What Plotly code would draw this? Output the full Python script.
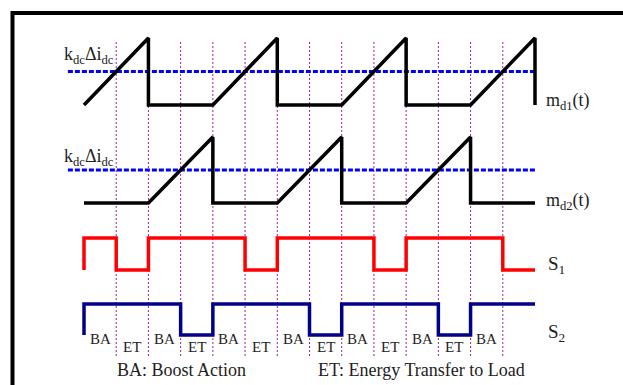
import plotly.graph_objects as go

# ---- data (time in switching sub-intervals, normalized levels 0..1) ----
t_md1 = [0, 2, 2, 4, 6, 6, 8, 10, 10, 12, 14, 14]
v_md1 = [0, 1, 0, 0, 1, 0, 0, 1, 0, 0, 1, 0]
t_md2 = [0, 2, 4, 4, 6, 8, 8, 10, 12, 12, 14]
v_md2 = [0, 0, 1, 0, 0, 1, 0, 0, 1, 0, 0]
t_s1 = [0, 0, 1, 2, 5, 6, 9, 10, 13, 14]
v_s1 = [0, 1, 0, 1, 0, 1, 0, 1, 0, 0]
t_s2 = [0, 0, 3, 4, 7, 8, 11, 12, 14]
v_s2 = [0, 1, 0, 1, 0, 1, 0, 1, 1]
threshold = 0.5
t_thr = [-0.5, 14]
grid_times = list(range(1, 14))
interval_labels = ["BA", "ET", "BA", "ET", "BA", "ET", "BA", "ET", "BA", "ET", "BA", "ET", "BA"]

# ---- layout geometry (pixel-like vertical lanes) ----
W, H = 623, 385
x0_px, x1_px = 84, 535
scale = (x1_px - x0_px) / 14.0
xmin = -x0_px / scale
xmax = xmin + W / scale

lanes = {  # (low y, high y) in px
    "md1": (105, 38),
    "md2": (203, 137),
    "s1": (270, 238),
    "s2": (335, 304),
}

def lane(vals, key):
    lo, hi = lanes[key]
    return [lo + (hi - lo) * v for v in vals]

fig = go.Figure()

# grid lines
for t in grid_times:
    fig.add_shape(type="line", x0=t, x1=t, y0=42, y1=356, xref="x", yref="y",
                  line=dict(color="#a020a0", width=1, dash="2px,2px"), layer="below")

# thresholds
for key in ("md1", "md2"):
    fig.add_trace(go.Scatter(x=t_thr, y=lane([threshold, threshold], key), mode="lines",
                             line=dict(color="#0000ff", width=3, dash="5px,2px"),
                             hoverinfo="skip"))

fig.add_trace(go.Scatter(x=t_md1, y=lane(v_md1, "md1"), mode="lines",
                         line=dict(color="black", width=3.5)))
fig.add_trace(go.Scatter(x=t_md2, y=lane(v_md2, "md2"), mode="lines",
                         line=dict(color="black", width=3.5)))
fig.add_trace(go.Scatter(x=t_s1, y=lane(v_s1, "s1"), mode="lines", line_shape="hv",
                         line=dict(color="#ff0000", width=3.5)))
fig.add_trace(go.Scatter(x=t_s2, y=lane(v_s2, "s2"), mode="lines", line_shape="hv",
                         line=dict(color="#00008b", width=3.5)))

serif = "Liberation Serif, Times New Roman, serif"
txt = "#222222"

def ann(x, y, text, size, xanchor="center", xref="paper"):
    fig.add_annotation(x=x, y=y, xref=xref, yref="y", text=text, showarrow=False,
                       xanchor=xanchor, yanchor="middle",
                       font=dict(family=serif, size=size, color=txt))

for i, lab in enumerate(interval_labels):
    ann(i + 0.5, 339 if lab == "BA" else 347, lab, 15, xref="x")

kd = "k<sub>dc</sub>Δi<sub>dc</sub>"
ann(62 / W, 55, kd, 18, xanchor="left")
ann(62 / W, 157, kd, 18, xanchor="left")
ann(544 / W, 101, "m<sub>d1</sub>(t)", 18, xanchor="left")
ann(544 / W, 201, "m<sub>d2</sub>(t)", 18, xanchor="left")
ann(546 / W, 265, "S<sub>1</sub>", 19, xanchor="left")
ann(546 / W, 333, "S<sub>2</sub>", 19, xanchor="left")
ann(181 / W, 370, "BA: Boost Action", 18)
ann(421 / W, 370, "ET: Energy Transfer to Load", 18)

# frame
fig.add_shape(type="line", xref="paper", yref="y", x0=11 / W, x1=1, y0=13, y1=13,
              line=dict(color="black", width=4))
fig.add_shape(type="line", xref="paper", yref="y", x0=12.5 / W, x1=12.5 / W, y0=11, y1=H,
              line=dict(color="black", width=4))

fig.update_layout(
    width=W, height=H, margin=dict(l=0, r=0, t=0, b=0),
    paper_bgcolor="white", plot_bgcolor="white", showlegend=False,
    xaxis=dict(range=[xmin, xmax], visible=False, fixedrange=True),
    yaxis=dict(range=[H, 0], visible=False, fixedrange=True),
)

fig.write_html("out.html", config={"displayModeBar": False},
               post_script="document.body.style.margin='0px';document.body.style.overflow='hidden';")
